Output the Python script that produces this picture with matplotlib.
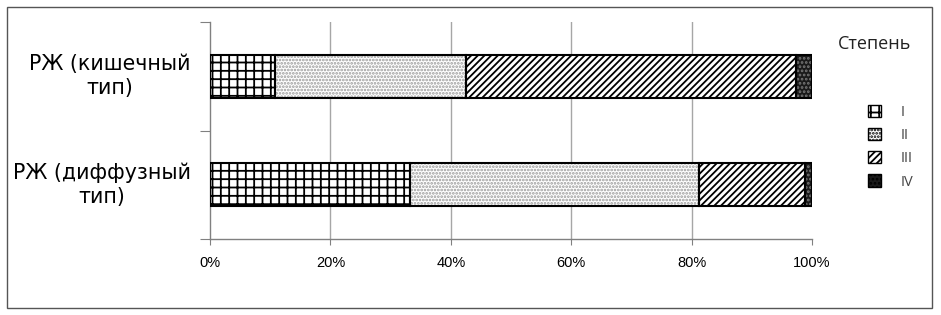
import matplotlib
matplotlib.use("Agg")
import matplotlib.pyplot as plt
from matplotlib.patches import Rectangle, Patch
from matplotlib.ticker import FuncFormatter
import numpy as np

categories = ["РЖ (диффузный\nтип)", "РЖ (кишечный\nтип)"]
grades = ["I", "II", "III", "IV"]
grade_I = [33.2, 10.8]
grade_II = [48.0, 31.7]
grade_III = [17.6, 54.9]
grade_IV = [1.2, 2.6]
xticks = [0, 20, 40, 60, 80, 100]

series = [grade_I, grade_II, grade_III, grade_IV]
styles = [
    dict(face="white", hatch="++", hcol="black"),
    dict(face="white", hatch=".....", hcol="#9a9a9a"),
    dict(face="white", hatch="/////", hcol="black"),
    dict(face="#1a1a1a", hatch="....", hcol="#777777"),
]

plt.rcParams['hatch.linewidth'] = 1.3
fig = plt.figure(figsize=(9.41, 3.15), dpi=100)
ax = fig.add_axes([210/941, 1-239/315, (812-210)/941, (239-22)/315])

y = np.arange(len(categories))
left = np.zeros(len(categories))
for vals, st in zip(series, styles):
    v = np.array(vals)
    ax.barh(y, v, left=left, height=0.4, color=st["face"], hatch=st["hatch"],
            edgecolor=st["hcol"], linewidth=0, zorder=3)
    ax.barh(y, v, left=left, height=0.4, fill=False, edgecolor="black",
            linewidth=1.5, zorder=4)
    left += v

ax.set_xlim(0, 100)
ax.set_ylim(-0.5, 1.5)
ax.set_xticks(xticks)
ax.xaxis.set_major_formatter(FuncFormatter(lambda v, p: f"{int(v)}%"))
ax.tick_params(axis='x', length=4, color="#808080", labelsize=10.5, pad=8)
for t in ax.get_xticklabels():
    t.set_family("Liberation Sans")
for xv in xticks[1:-1]:
    ax.axvline(xv, color="#a6a6a6", lw=1, zorder=1)

ax.set_yticks([-0.5, 0.5, 1.5])
ax.set_yticklabels([])
ax.tick_params(axis='y', length=7, color="#808080")
for yi, lab in zip(y, categories):
    ax.text(-3.2, yi, lab, ha='right', va='center', multialignment='center',
            fontsize=14.8, family="DejaVu Sans", transform=ax.transData,
            linespacing=1.25)

for s in ["top", "right"]:
    ax.spines[s].set_visible(False)
for s in ["left", "bottom"]:
    ax.spines[s].set_color("#808080")
    ax.spines[s].set_linewidth(1)

# legend
fig.text(875/941, 1-44/315, "Степень", ha='center', va='center', fontsize=13,
         family="Open Sans", color="#222222")
handles = [Patch(facecolor=st["face"], hatch=st["hatch"], edgecolor="black", linewidth=1)
           for st in styles]
leg = fig.legend(handles, grades, loc='upper left', bbox_to_anchor=(855/941, 1-92/315),
                 frameon=False, handlelength=0.9, handleheight=0.9, handletextpad=1.3,
                 labelspacing=0.55, prop={'family': 'Open Sans', 'size': 10.5})
for t in leg.get_texts():
    t.set_color("#444444")

fig.patches.append(Rectangle((7/941, 1-308/315), (932-7)/941, (308-7)/315,
                             transform=fig.transFigure, fill=False,
                             edgecolor="#555555", linewidth=1))

fig.savefig("out.png", dpi=100)
